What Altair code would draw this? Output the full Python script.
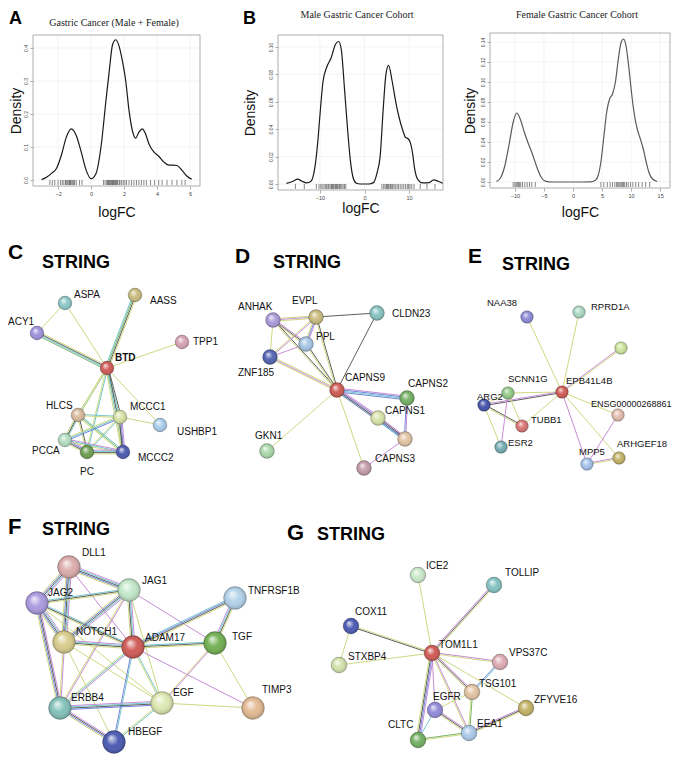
import altair as alt
import pandas as pd

# ---------------- density data ----------------
a_x = [-3.0,-2.7,-2.4,-2.1,-1.8,-1.5,-1.2,-0.9,-0.6,-0.3,0.0,0.3,0.6,0.9,1.1,1.3,1.5,1.7,1.9,2.1,2.3,2.5,2.7,2.9,3.1,3.3,3.5,3.8,4.1,4.4,4.7,5.0,5.2,5.5,5.8,6.1]
a_y = [0.001,0.008,0.02,0.035,0.075,0.13,0.155,0.135,0.085,0.03,0.004,0.02,0.1,0.24,0.33,0.41,0.425,0.405,0.36,0.3,0.21,0.15,0.127,0.145,0.155,0.14,0.11,0.085,0.072,0.055,0.045,0.045,0.044,0.03,0.012,0.002]
a_rug = [-2.5,-2.35,-2.2,-2.0,-1.85,-1.75,-1.65,-1.55,-1.5,-1.42,-1.35,-1.3,-1.25,-1.2,-1.12,-1.05,-1.0,-0.9,-0.7,-0.55,
         0.75,0.85,0.95,1.0,1.05,1.1,1.15,1.2,1.25,1.3,1.35,1.4,1.45,1.5,1.55,1.6,1.7,1.75,1.85,1.95,2.05,2.15,2.3,2.45,
         2.6,2.75,2.9,3.05,3.2,3.35,3.6,3.85,4.1,4.3,4.6,4.9,5.2,5.5,5.7]

b_x = [-17.5,-16,-15,-14,-13,-12,-11,-10.5,-10,-9.3,-8.5,-7.5,-6.5,-5.8,-5.2,-4.5,-3.8,-3.2,-2.5,-1.8,-1,0,1,2,2.8,3.5,4.2,4.8,5.4,6.2,7.0,7.8,8.5,9.2,9.8,10.3,10.8,11.2,12.0,13.0,14.5,15.5,16.5,17.5]
b_y = [0.0005,0.002,0.0035,0.002,0.0008,0.002,0.015,0.03,0.05,0.075,0.085,0.092,0.102,0.104,0.098,0.07,0.04,0.018,0.004,0.0005,0.0,0.0,0.0,0.001,0.008,0.02,0.055,0.08,0.0866,0.075,0.06,0.048,0.04,0.034,0.033,0.03,0.022,0.012,0.003,0.0008,0.001,0.003,0.002,0.0005]
b_rug = [-15.5,-13.5,-10.8,-10.2,-9.8,-9.5,-9.1,-8.8,-8.5,-8.2,-8.0,-7.7,-7.4,-7.2,-7.0,-6.8,-6.5,-6.3,-6.1,-5.9,-5.6,-5.4,-5.1,-4.8,-4.5,-4.2,
         3.9,4.3,4.6,4.9,5.1,5.3,5.5,5.8,6.0,6.3,6.6,6.9,7.3,7.6,8.0,8.4,8.8,9.2,9.6,9.9,10.2,10.6,11.1,12.5,14.0,15.8]

f_x = [-13.2,-12.5,-11.8,-11.0,-10.3,-9.7,-9.1,-8.4,-7.8,-7.0,-6.3,-5.6,-5.0,-4.2,-3,0,3.0,3.8,4.3,4.8,5.3,5.8,6.3,6.8,7.3,7.8,8.3,8.7,9.1,9.6,10.1,10.6,11.1,11.6,12.1,12.6,13.1,13.7,14.5]
f_y = [0.0005,0.004,0.015,0.038,0.06,0.069,0.063,0.05,0.04,0.028,0.016,0.006,0.0015,0.0002,0,0,0.0002,0.0015,0.006,0.02,0.045,0.07,0.083,0.088,0.1,0.123,0.14,0.143,0.137,0.115,0.088,0.066,0.052,0.043,0.033,0.02,0.009,0.003,0.0005]
f_rug = [-10.3,-10.0,-9.8,-9.6,-9.4,-9.2,-9.0,-8.7,-8.3,-7.9,-7.5,-7.1,-6.5,
         4.8,5.3,5.9,6.4,6.8,7.2,7.5,7.7,7.9,8.1,8.3,8.5,8.7,8.9,9.2,9.5,9.9,10.3,10.8,11.3,11.9,12.5,13.2]

titles = ["Gastric Cancer (Male + Female)", "Male Gastric Cancer Cohort", "Female Gastric Cancer Cohort"]
a_xticks = [-2, 0, 2, 4, 6]
b_xticks = [-10, 0, 10]
f_xticks = [-10, -5, 0, 5, 10, 15]
a_yticks = [0, 0.1, 0.2, 0.3, 0.4]
b_yticks = [0, 0.02, 0.04, 0.06, 0.08, 0.10]
f_yticks = [0, 0.02, 0.04, 0.06, 0.08, 0.10, 0.12, 0.14]

# ---------------- network data (layout) ----------------
# name, x, y, colour, label, label-x, label-y
net_nodes = {
    "C": [("ASPA",65,303,"#8cc6c6","ASPA",74,295),("AASS",135,295,"#c9bb7e","AASS",150,301),
          ("ACY1",37,333,"#9d90dc","ACY1",8,322),("TPP1",182,342,"#d6a2b4","TPP1",193,342),
          ("BTD",107,368,"#cf5a55","",0,0),("HLCS",78,415,"#d8b99c","HLCS",46,406),
          ("MCCC1",120,417,"#d6e2a4","MCCC1",130,407),("USHBP1",160,425,"#aacbea","USHBP1",177,432),
          ("PCCA",65,440,"#b2dcc2","PCCA",32,451),("PC",87,452,"#6e9e52","PC",80,472),
          ("MCCC2",123,452,"#4b5ab0","MCCC2",138,458)],
    "D": [("ANHAK",273,320,"#a99ada","ANHAK",238,307),("EVPL",316,317,"#c9bb7e","EVPL",292,301),
          ("CLDN23",377,313,"#86c2c0","CLDN23",392,314),("PPL",306,344,"#a5c6e4","PPL",316,337),
          ("ZNF185",270,357,"#5263b2","ZNF185",238,373),("CAPNS9",337,390,"#cf5a55","CAPNS9",345,378),
          ("CAPNS2",407,398,"#74b062","CAPNS2",408,384),("CAPNS1",378,418,"#d6e2a8","CAPNS1",385,411),
          ("CAPNX",405,439,"#e2c4a4","",0,0),("CAPNS3",364,468,"#c29ca8","CAPNS3",375,459),
          ("GKN1",267,451,"#aad8aa","GKN1",255,436)],
    "E": [("NAA38",527,317,"#8a8ad4","NAA38",487,303),("RPRD1A",579,312,"#aad8c2","RPRD1A",591,307),
          ("EX",621,348,"#cce29c","",0,0),("SCNN1G",508,393,"#92c884","SCNN1G",508,379),
          ("EPB41L4B",562,392,"#cf5a55","EPB41L4B",566,381),("ARG2",484,405,"#4252aa","ARG2",477,397),
          ("ENSG",618,415,"#e2bcac","ENSG00000268861",591,404),("TUBB1",522,426,"#d87272","TUBB1",531,420),
          ("ESR2",501,447,"#72acb2","ESR2",508,443),("ARHGEF18",619,458,"#c2b264","ARHGEF18",617,444),
          ("MPP5",587,464,"#a2c2ea","MPP5",579,452)],
    "F": [("DLL1",69,567,"#dcacac","DLL1",82,553),("JAG1",129,590,"#c2e8ca","JAG1",142,581),
          ("TNFRSF1B",235,598,"#b2d2ea","TNFRSF1B",248,591),("JAG2",37,603,"#aa9ae0","JAG2",48,593),
          ("NOTCH1",64,642,"#d8cc8c","NOTCH1",76,632),("ADAM17",133,647,"#cf5a55","ADAM17",145,638),
          ("TGF",215,643,"#72b052","TGF",232,637),("TIMP3",253,708,"#e2ba92","TIMP3",262,690),
          ("ERBB4",60,708,"#82c2ba","ERBB4",71,698),("EGF",162,703,"#dde8b2","EGF",173,693),
          ("HBEGF",114,742,"#4a5ab2","HBEGF",128,732)],
    "G": [("ICE2",418,575,"#cae8ca","ICE2",426,566),("TOLLIP",494,585,"#84c2c2","TOLLIP",505,573),
          ("COX11",351,626,"#4a5ab2","COX11",355,612),("TOM1L1",432,653,"#cf5a55","TOM1L1",439,645),
          ("STXBP4",339,665,"#d2e2aa","STXBP4",348,657),("VPS37C",500,662,"#dcacb2","VPS37C",509,653),
          ("TSG101",472,692,"#e2c2a2","TSG101",479,684),("ZFYVE16",526,708,"#c2b264","ZFYVE16",534,700),
          ("EGFR",435,710,"#928ada","EGFR",433,697),("EEA1",469,733,"#aacaea","EEA1",477,724),
          ("CLTC",418,740,"#72b062","CLTC",388,725)],
}
bold_labels = [("BTD",115,358)]

# edges: node a, node b, evidence channels (y text-mining, p experiments, k co-expression, t database, b co-occurrence, g neighbourhood)
net_edges = {
    "C": [("BTD","ASPA","y"),("BTD","AASS","tgky"),("BTD","ACY1","gtky"),("BTD","TPP1","y"),("ASPA","ACY1","y"),
          ("BTD","HLCS","ty"),("BTD","MCCC1","kty"),("BTD","PC","ty"),("BTD","MCCC2","kty"),("BTD","PCCA","y"),
          ("BTD","USHBP1","y"),("MCCC1","USHBP1","y"),("HLCS","MCCC1","ty"),("HLCS","PCCA","tky"),("HLCS","PC","ky"),
          ("HLCS","MCCC2","tgy"),("MCCC1","PCCA","bty"),("MCCC1","PC","ty"),("MCCC1","MCCC2","pbky"),
          ("PCCA","PC","pbky"),("PCCA","MCCC2","pty"),("PC","MCCC2","ptky")],
    "D": [("ANHAK","EVPL","ypy"),("ANHAK","PPL","pky"),("ANHAK","ZNF185","y"),("ANHAK","CAPNS9","ky"),
          ("EVPL","PPL","pby"),("EVPL","ZNF185","py"),("EVPL","CLDN23","k"),("EVPL","CAPNS9","ky"),
          ("PPL","ZNF185","p"),("PPL","CAPNS9","ky"),("ZNF185","CAPNS9","ypy"),("CLDN23","CAPNS9","k"),
          ("CAPNS9","CAPNS2","pbtb"),("CAPNS9","CAPNS1","pbty"),("CAPNS9","CAPNX","pkb"),("CAPNS9","GKN1","y"),
          ("CAPNS9","CAPNS3","y"),("CAPNS2","CAPNX","pb"),("CAPNS1","CAPNX","pkbt"),("CAPNX","CAPNS3","p")],
    "E": [("EPB41L4B","NAA38","y"),("EPB41L4B","RPRD1A","y"),("EPB41L4B","EX","py"),("EPB41L4B","SCNN1G","y"),
          ("EPB41L4B","ARG2","kp"),("EPB41L4B","TUBB1","y"),("EPB41L4B","ENSG","y"),("EPB41L4B","MPP5","p"),
          ("EPB41L4B","ARHGEF18","y"),("ARG2","SCNN1G","y"),("ARG2","TUBB1","ky"),("ARG2","ESR2","y"),
          ("SCNN1G","ESR2","p"),("SCNN1G","TUBB1","y"),("ENSG","MPP5","p"),("MPP5","ARHGEF18","py")],
    "F": [("DLL1","JAG2","ptkby"),("DLL1","JAG1","ptkby"),("DLL1","NOTCH1","ptkby"),("DLL1","ADAM17","p"),
          ("JAG2","JAG1","tky"),("JAG2","NOTCH1","ptkby"),("JAG2","ADAM17","tky"),("JAG2","ERBB4","pkby"),
          ("JAG2","EGF","y"),("JAG1","NOTCH1","ptkby"),("JAG1","ADAM17","ptky"),("JAG1","TGF","p"),
          ("JAG1","ERBB4","py"),("JAG1","EGF","y"),("NOTCH1","ADAM17","ptky"),("NOTCH1","ERBB4","py"),
          ("NOTCH1","EGF","y"),("NOTCH1","HBEGF","y"),("ADAM17","TGF","tky"),("ADAM17","TNFRSF1B","tbky"),
          ("ADAM17","ERBB4","pty"),("ADAM17","EGF","ty"),("ADAM17","HBEGF","tb"),("ADAM17","TIMP3","p"),
          ("TGF","TNFRSF1B","ptky"),("TGF","EGF","py"),("TGF","TIMP3","y"),("ERBB4","EGF","ptkb"),
          ("ERBB4","HBEGF","pkby"),("EGF","HBEGF","ty"),("EGF","TIMP3","y")],
    "G": [("TOM1L1","ICE2","y"),("TOM1L1","TOLLIP","pky"),("TOM1L1","COX11","ky"),("TOM1L1","STXBP4","y"),
          ("COX11","STXBP4","y"),("TOM1L1","VPS37C","py"),("TOM1L1","TSG101","pky"),("TOM1L1","ZFYVE16","y"),
          ("TOM1L1","EGFR","p"),("TOM1L1","EEA1","py"),("TOM1L1","CLTC","pbky"),("VPS37C","TSG101","tb"),
          ("TSG101","EEA1","gy"),("TSG101","EGFR","y"),("EGFR","EEA1","pky"),("EGFR","CLTC","t"),
          ("CLTC","EEA1","gy"),("EEA1","ZFYVE16","pky")],
}
headings = [("C",8,253,21),("STRING",42,263,18),("D",235,257,21),("STRING",273,263,18),
            ("E",468,257,21),("STRING",502,265,18),("F",8,527,22),("STRING",42,530,18),
            ("G",287,533,22),("STRING",317,535,18)]

# ---------------- layout & styling ----------------
W, H = 664, 749          # whole drawing (page minus 8px margin)
M = 8                    # page margin; layout boxes below are in page pixels
LANE_COL = {"y": "#ccd67a", "p": "#c487d4", "k": "#555555", "t": "#6cc4cc", "b": "#6c7fd8", "g": "#6fb05f"}
NODE_SIZE = {"C": 190, "D": 220, "E": 160, "F": 520, "G": 250}
LABEL_SIZE = {"C": 10, "D": 10, "E": 9.5, "F": 10, "G": 10}
SANS = "Liberation Sans"
SERIF = "Liberation Serif"


def density_layers(xs, ys, rug, xdom, ydom, box, xticks, yticks, yfmt, lcol,
                   title, tpos, letter, lpos, ytp, xtp):
    x0, x1, y0, y1 = [v - M for v in box]
    xsc = alt.Scale(domain=xdom, range=[x0, x1], nice=False, zero=False)
    ysc = alt.Scale(domain=ydom, range=[y1, y0], nice=False, zero=False)
    xax = alt.Axis(orient="bottom", offset=y1 - H, values=xticks, format="d", title="logFC",
                   titleFontSize=14, titleFont=SANS, titleFontWeight="normal", titlePadding=xtp,
                   titleColor="#111", labelFontSize=5.5, labelColor="#444", labelFont=SANS,
                   tickSize=3, tickColor="#777", tickWidth=0.6, labelPadding=2, domain=False,
                   grid=False, labelFlush=False, labelOverlap=False)
    yax = alt.Axis(orient="left", offset=-x0, values=yticks, format=yfmt, title="Density",
                   titleFontSize=14, titleFont=SANS, titleFontWeight="normal", titlePadding=ytp,
                   titleColor="#111", labelFontSize=5, labelColor="#444", labelFont=SANS,
                   labelAngle=270, labelAlign="center", labelBaseline="bottom", labelPadding=1.5,
                   tickSize=3, tickColor="#777", tickWidth=0.6, domain=False, grid=False,
                   labelFlush=False, labelOverlap=False)
    gx = alt.Chart(pd.DataFrame({"v": xticks})).mark_rule(color="#ececec", strokeWidth=0.6).encode(
        x=alt.X("v:Q", scale=xsc, axis=None), y=alt.value(y0), y2=alt.value(y1))
    gy = alt.Chart(pd.DataFrame({"v": yticks})).mark_rule(color="#ececec", strokeWidth=0.6).encode(
        y=alt.Y("v:Q", scale=ysc, axis=None), x=alt.value(x0), x2=alt.value(x1))
    frame = alt.Chart(pd.DataFrame({"k": [0]})).mark_rect(
        fill="white", fillOpacity=0, stroke="#999999", strokeWidth=0.8).encode(
        x=alt.value(x0), x2=alt.value(x1), y=alt.value(y0), y2=alt.value(y1))
    line = alt.Chart(pd.DataFrame({"logFC": xs, "Density": ys})).mark_line(
        interpolate="monotone", color=lcol, strokeWidth=1.2).encode(
        x=alt.X("logFC:Q", scale=xsc, axis=xax),
        y=alt.Y("Density:Q", scale=ysc, axis=yax))
    rugm = alt.Chart(pd.DataFrame({"logFC": rug})).mark_rule(
        color="#111111", strokeWidth=0.6, opacity=0.85).encode(
        x=alt.X("logFC:Q", scale=xsc, axis=None), y=alt.value(y1 - 6), y2=alt.value(y1 - 1))
    ttl = alt.Chart(pd.DataFrame({"t": [title]})).mark_text(
        font=SERIF, fontSize=10, align="center", baseline="middle", color="#222").encode(
        text="t:N", x=alt.value(tpos[0] - M), y=alt.value(tpos[1] - M))
    out = [gx, gy, frame, line, rugm, ttl]
    if letter:
        out.append(alt.Chart(pd.DataFrame({"t": [letter]})).mark_text(
            font=SANS, fontSize=18, fontWeight="bold", align="left", baseline="middle",
            color="#000").encode(text="t:N", x=alt.value(lpos[0] - M), y=alt.value(lpos[1] - M)))
    return out


layers = []
layers += density_layers(a_x, a_y, a_rug, [-3.52, 6.6], [-0.01818, 0.43939], (33, 200, 35, 186),
                         a_xticks, a_yticks, ".1f", "#1a1a1a", titles[0], (114, 23), "A", (9, 18.5), 0, 8.5)
layers += density_layers(b_x, b_y, b_rug, [-19.4, 17.6], [-0.00438, 0.10876], (278, 443, 35, 190),
                         b_xticks, b_yticks, ".2f", "#1a1a1a", titles[1], (357, 15), "B", (243, 18.5), 11.5, 0.5)
layers += density_layers(f_x, f_y, f_rug, [-14.3, 16.7], [-0.006, 0.149], (490, 670, 33, 188),
                         f_xticks, f_yticks, ".2f", "#5a5a5a", titles[2], (577, 15), "", (0, 0), 3.5, 6.5)

# ---------------- network layers ----------------
node_rows, lab_rows, edge_rows = [], [], []
for pan, nodes in net_nodes.items():
    pos = {}
    for name, x, y, col, lab, lx, ly in nodes:
        pos[name] = (x, y)
        node_rows.append(dict(x=x, y=y, col=col, s=NODE_SIZE[pan]))
        if lab:
            fs = 9 if lab.startswith("ENSG") else LABEL_SIZE[pan]
            lab_rows.append(dict(x=lx, y=ly, t=lab, fs=fs))
    for a, b, code in net_edges[pan]:
        x1, y1 = pos[a]
        x2, y2 = pos[b]
        dx, dy = x2 - x1, y2 - y1
        L = (dx * dx + dy * dy) ** 0.5
        nx, ny = -dy / L, dx / L
        k = len(code)
        for i, ch in enumerate(code):
            o = (i - (k - 1) / 2) * 1.25
            edge_rows.append(dict(x=x1 + nx * o, y=y1 + ny * o, x2=x2 + nx * o, y2=y2 + ny * o,
                                  c=LANE_COL[ch]))

nodes_df = pd.DataFrame(node_rows)
labels_df = pd.DataFrame(lab_rows)
bold_df = pd.DataFrame([dict(x=x, y=y, t=t) for t, x, y in bold_labels])
edges_df = pd.DataFrame(edge_rows)
head_df = pd.DataFrame([dict(t=t, x=x, y=y, fs=fs) for t, x, y, fs in headings])

nx_sc = alt.Scale(domain=[M, M + W], range=[0, W], nice=False, zero=False)
ny_sc = alt.Scale(domain=[M, M + H], range=[0, H], nice=False, zero=False)


def X(f):
    return alt.X(f, scale=nx_sc, axis=None)


def Y(f):
    return alt.Y(f, scale=ny_sc, axis=None)


layers.append(alt.Chart(edges_df).mark_rule(strokeWidth=1, opacity=0.95).encode(
    x=X("x:Q"), y=Y("y:Q"), x2="x2:Q", y2="y2:Q", color=alt.Color("c:N", scale=None)))
layers.append(alt.Chart(nodes_df).mark_circle(opacity=1, stroke="#000000", strokeOpacity=0.3, strokeWidth=0.6).encode(
    x=X("x:Q"), y=Y("y:Q"), size=alt.Size("s:Q", scale=None), color=alt.Color("col:N", scale=None)))
gloss = alt.RadialGradient(
    gradient="radial", x1=0.36, y1=0.3, r1=0.0, x2=0.5, y2=0.5, r2=0.5,
    stops=[alt.GradientStop(color="rgba(255,255,255,0.85)", offset=0),
           alt.GradientStop(color="rgba(255,255,255,0.0)", offset=0.55),
           alt.GradientStop(color="rgba(0,0,0,0.22)", offset=1)])
layers.append(alt.Chart(nodes_df).mark_circle(opacity=1, color=gloss).encode(
    x=X("x:Q"), y=Y("y:Q"), size=alt.Size("s:Q", scale=None)))
layers.append(alt.Chart(labels_df).mark_text(font=SANS, align="left", baseline="middle", color="#111").encode(
    x=X("x:Q"), y=Y("y:Q"), text="t:N", size=alt.Size("fs:Q", scale=None)))
layers.append(alt.Chart(bold_df).mark_text(font=SANS, fontSize=10, fontWeight="bold", align="left",
                                           baseline="middle", color="#111").encode(
    x=X("x:Q"), y=Y("y:Q"), text="t:N"))
layers.append(alt.Chart(head_df).mark_text(font=SANS, fontWeight="bold", align="left", baseline="middle",
                                           color="#000").encode(
    x=X("x:Q"), y=Y("y:Q"), text="t:N", size=alt.Size("fs:Q", scale=None)))

chart = alt.layer(*layers).resolve_scale(x="independent", y="independent").resolve_axis(
    x="independent", y="independent").properties(
    width=W, height=H, padding=0, background="white",
    autosize=alt.AutoSizeParams(type="none")).configure_view(strokeWidth=0)
chart.save("out.html", embed_options={"renderer": "svg", "actions": False})
